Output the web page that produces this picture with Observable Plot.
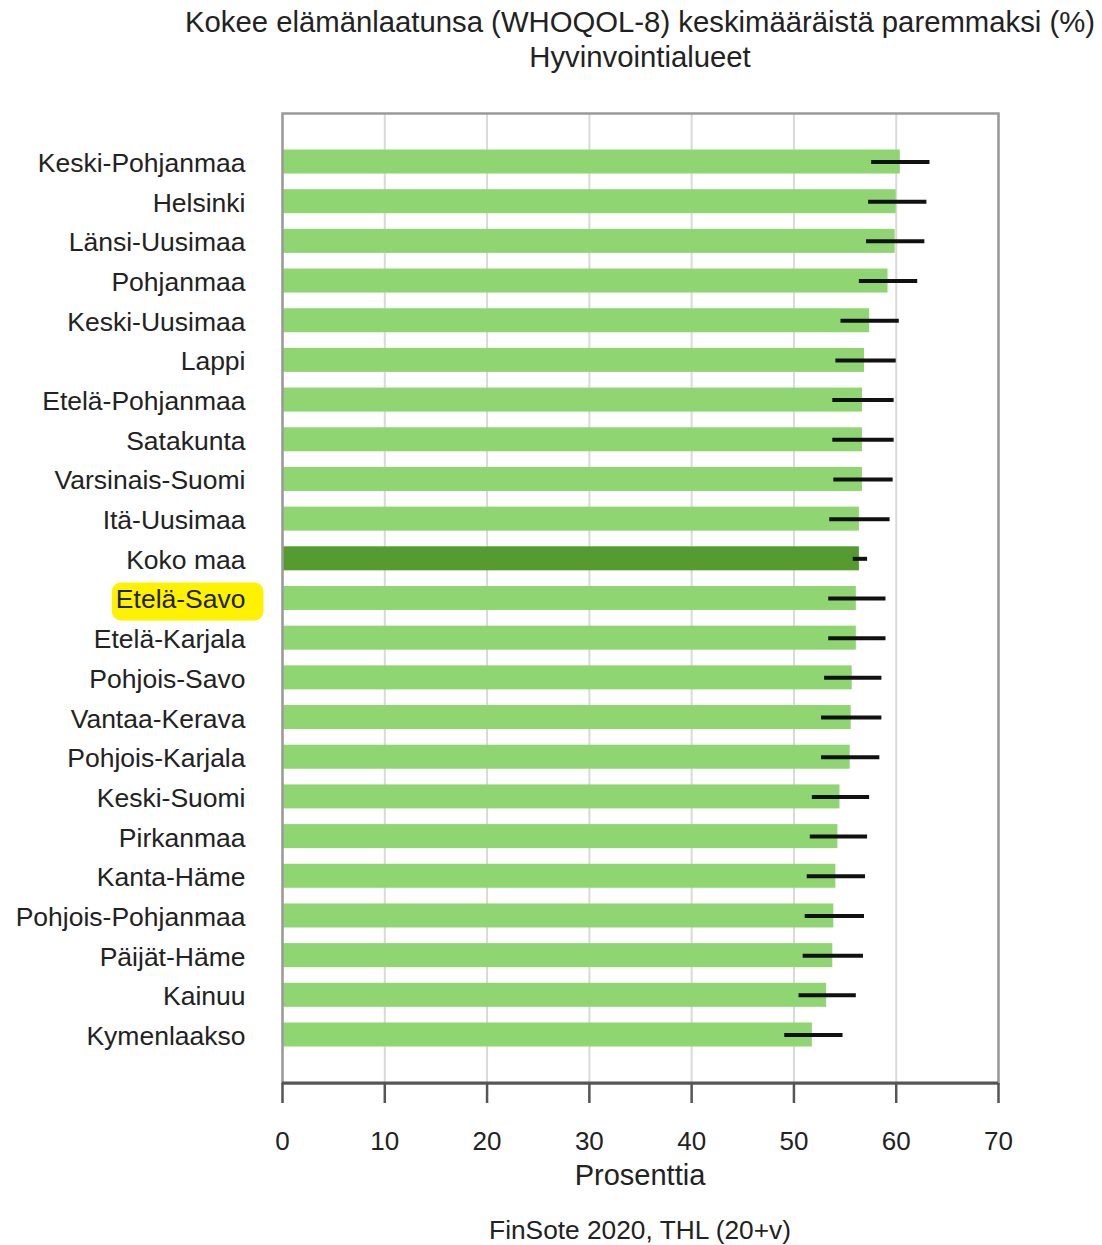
<!DOCTYPE html>
<html>
<head>
<meta charset="utf-8">
<script src="https://cdn.jsdelivr.net/npm/d3@7"></script>
<script src="https://cdn.jsdelivr.net/npm/@observablehq/plot@0.6"></script>
<style>
  body { margin: 0; background: #fff; font-family: "Liberation Sans", Arial, sans-serif; color: #222; }
  #title { width: 1102px; box-sizing: border-box; padding-left: 178px; padding-top: 4px; text-align: center; font-size: 29.3px; line-height: 35px; height: 74px; white-space: nowrap; }
  #xlabel { width: 1102px; box-sizing: border-box; padding-left: 178px; text-align: center; font-size: 29px; line-height: 34px; height: 34px; }
  #caption { width: 1102px; box-sizing: border-box; padding-left: 178px; text-align: center; font-size: 26.3px; line-height: 34px; margin-top: 21px; }
  svg { display: block; }
</style>
</head>
<body>
<div id="title">Kokee elämänlaatunsa (WHOQOL-8) keskimääräistä paremmaksi (%)<br>Hyvinvointialueet</div>
<div id="chart"></div>
<div id="xlabel">Prosenttia</div>
<div id="caption">FinSote 2020, THL (20+v)</div>
<script>
const regions = ["Keski-Pohjanmaa","Helsinki","Länsi-Uusimaa","Pohjanmaa","Keski-Uusimaa","Lappi","Etelä-Pohjanmaa","Satakunta","Varsinais-Suomi","Itä-Uusimaa","Koko maa","Etelä-Savo","Etelä-Karjala","Pohjois-Savo","Vantaa-Kerava","Pohjois-Karjala","Keski-Suomi","Pirkanmaa","Kanta-Häme","Pohjois-Pohjanmaa","Päijät-Häme","Kainuu","Kymenlaakso"];
const values = [60.4,60.0,59.9,59.2,57.4,56.9,56.7,56.7,56.7,56.4,56.4,56.1,56.1,55.7,55.6,55.5,54.5,54.3,54.1,53.9,53.8,53.2,51.8];
const lower  = [57.6,57.3,57.1,56.4,54.6,54.1,53.8,53.8,53.9,53.5,55.8,53.4,53.4,53.0,52.7,52.7,51.8,51.6,51.3,51.1,50.9,50.5,49.1];
const upper  = [63.3,63.0,62.8,62.1,60.3,60.0,59.8,59.8,59.7,59.4,57.2,59.0,59.0,58.6,58.6,58.4,57.4,57.2,57.0,56.9,56.8,56.1,54.8];
const xTicks = [0,10,20,30,40,50,60,70];
const totalLabel = "Koko maa";
const highlightLabel = "Etelä-Savo";

const data = regions.map((r, i) => ({region: r, value: values[i], lo: lower[i], hi: upper[i], total: r === totalLabel}));

const plot = Plot.plot({
  width: 1102,
  height: 1084,
  marginLeft: 282,
  marginRight: 104,
  marginTop: 39,
  marginBottom: 75,
  style: {fontFamily: "'Liberation Sans', Arial, sans-serif", fontSize: "26px", color: "#222", background: "#fff"},
  x: {domain: [0, 70], ticks: xTicks},
  y: {domain: regions, paddingInner: 0.395, paddingOuter: 0.92, round: false},
  marks: [
    Plot.gridX(xTicks, {stroke: "#d9d9d9", strokeOpacity: 1, strokeWidth: 2}),
    Plot.barX(data, {x: "value", y: "region", fill: d => d.total ? "#559b2f" : "#8fd672"}),
    Plot.ruleY(data, {x1: "lo", x2: "hi", y: "region", stroke: "#111", strokeWidth: 4}),
    Plot.frame({stroke: "#9a9a9a", strokeWidth: 2.5}),
    Plot.axisX(xTicks, {tickSize: 20, tickPadding: 28, stroke: "#555", strokeWidth: 2.5, fill: "#222", label: null, fontSize: 26}),
    Plot.axisY({tickSize: 0, tickPadding: 37, label: null, fontSize: 26.5, fill: "#222", dy: 1.5})
  ]
});
document.getElementById("chart").appendChild(plot);

// darker bottom axis line, from the x scale
const xs = plot.scale("x");
const [x0, x1] = xs.range;
const yBottom = 1084 - 75;
d3.select(plot).append("line")
  .attr("x1", x0).attr("x2", x1).attr("y1", yBottom).attr("y2", yBottom)
  .attr("stroke", "#555").attr("stroke-width", 3);

// yellow highlight behind the label
d3.select(plot).selectAll("text").each(function() {
  if (this.textContent === highlightLabel) {
    const b = this.getBBox();
    const g = this.parentNode;
    const ctm = this.getAttribute("transform");
    const rect = document.createElementNS("http://www.w3.org/2000/svg", "rect");
    rect.setAttribute("x", b.x - 4);
    rect.setAttribute("y", b.y - 2);
    rect.setAttribute("width", b.width + 22);
    rect.setAttribute("height", b.height + 8);
    rect.setAttribute("rx", 9);
    rect.setAttribute("fill", "#fff200");
    if (ctm) rect.setAttribute("transform", ctm);
    g.insertBefore(rect, this);
  }
});
</script>
</body>
</html>
